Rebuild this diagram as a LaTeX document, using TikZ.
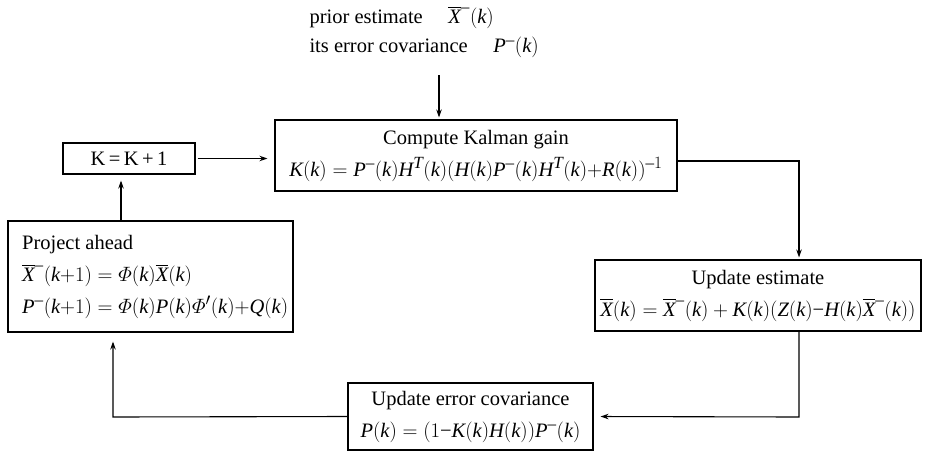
\documentclass[tikz,border=0pt]{standalone}
\usepackage{amsmath}
\usepackage{fontspec}
\setmainfont{Liberation Serif}
\usepackage[italic]{mathastext}
\usetikzlibrary{arrows.meta}
\newcommand{\mymin}{\mathord{\text{\char"2212}}}
\tikzset{
  box/.style={draw, line width=1.1pt, inner sep=0pt, align=center,
              font=\fontsize{20.5}{32}\selectfont},
  arr/.style={line width=1.1pt, -{Stealth[length=8pt,width=5.5pt]}},
  txt/.style={inner sep=0pt, align=left, font=\fontsize{20.5}{32}\selectfont}
}
\begin{document}
\begin{tikzpicture}[x=1pt,y=-1pt]
\useasboundingbox (0,0) rectangle (925,452);
\node[anchor=west, align=left, font=\fontsize{20.5}{29}\selectfont] (prior) at (306,32)
  {prior estimate\quad\ $\overline{X}^{-}(k)$\\its error covariance\quad\ $P^{-}(k)$};
\node[box, minimum width=402pt, minimum height=71pt] (gain) at (476,155.5)
  {Compute Kalman gain\\$K(k)=P^{-}(k)H^{T}(k)(H(k)P^{-}(k)H^{T}(k){+}R(k))^{-1}$};
\node[box, minimum width=326pt, minimum height=71pt] (upd) at (758,295.5)
  {Update estimate\\$\overline{X}(k)=\overline{X}^{-}(k)+K(k)(Z(k)\mymin H(k)\overline{X}^{-}(k))$};
\node[box, minimum width=245pt, minimum height=67pt] (errcov) at (470.5,416.5)
  {Update error covariance\\$P(k)=(1\mymin K(k)H(k))P^{-}(k)$};
\node[box, minimum width=285pt, minimum height=111pt] (proj) at (150.5,276.5) {};
\node[txt, anchor=north west] (projtxt) at (22,235)
  {Project ahead\\$\overline{X}^{-}(k{+}1)=\varPhi(k)\overline{X}(k)$\\$P^{-}(k{+}1)=\varPhi(k)P(k)\varPhi'(k){+}Q(k)$};
\node[box, minimum width=132pt, minimum height=31pt] (K) at (129,158.5) {K\,=\,K\,+\,1};
\coordinate (px) at (439,75);
\coordinate (gx) at (799,161);
\coordinate (ux) at (799,417);
\coordinate (lx) at (113,417);
\coordinate (kx) at (121,0);
\draw[arr, shorten >=2pt] (px) -- (px |- gain.north);
\draw[arr, shorten >=2pt] (gain.east |- gx) -- (gx) -- (gx |- upd.north);
\draw[arr, shorten >=7pt] (ux |- upd.south) -- (ux) -- (errcov.east);
\draw[arr, shorten >=9pt] (errcov.west) -- (lx) -- (lx |- proj.south);
\draw[arr, shorten >=6pt] (kx |- proj.north) -- (kx |- K.south);
\draw[arr, shorten >=7pt, shorten <=2pt] (K.east) -- (gain.west |- K.east);
\end{tikzpicture}
\end{document}
